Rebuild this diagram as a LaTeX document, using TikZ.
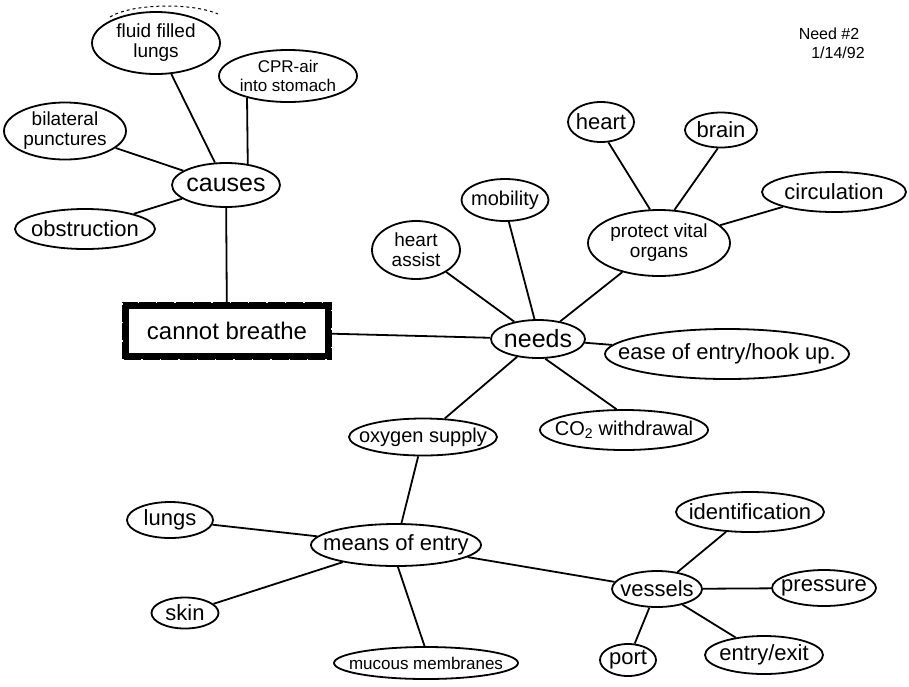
\documentclass[tikz,border=0pt]{standalone}
\usepackage{fontspec}
\setmainfont{Liberation Sans}
\usetikzlibrary{shapes.geometric}
\begin{document}
\begin{tikzpicture}[x=1pt,y=-1pt,
  bub/.style={ellipse, draw, line width=1.8pt, inner sep=0pt},
  lnk/.style={line width=1.8pt},
  every label/.style={align=center, inner sep=0pt, font=\fontsize{22}{24}\selectfont},
  two/.style={font=\fontsize{19}{20}\selectfont},
  twos/.style={font=\fontsize{17}{19}\selectfont},
  big/.style={font=\fontsize{25}{27}\selectfont},
  medium/.style={font=\fontsize{20}{22}\selectfont},
  sml/.style={font=\fontsize{17}{19}\selectfont},
  hand/.style={font=\fontsize{16}{18}\selectfont, inner sep=0pt}]
\useasboundingbox (0,0) rectangle (909,686);

% causes cluster
\node[bub, minimum width=128pt, minimum height=62pt, label={[two]center:{fluid filled\\lungs}}] (ffl) at (156,43) {};
\node[bub, minimum width=138pt, minimum height=52pt, label={[twos]center:{CPR-air\\into stomach}}] (cpr) at (288,76) {};
\node[bub, minimum width=122pt, minimum height=57pt, label={[two]center:{bilateral\\punctures}}] (bil) at (65,131) {};
\node[bub, minimum width=108pt, minimum height=44pt, label={[big]center:{causes}}] (cau) at (226,185) {};
\node[bub, minimum width=140pt, minimum height=40pt, label={center:{obstruction}}] (obs) at (85,229) {};

% central problem
\node[draw, line width=7pt, minimum width=203pt, minimum height=51pt, inner sep=0pt,
      font=\fontsize{24}{26}\selectfont] (cb) at (227,331) {cannot breathe};
\draw[white, line width=1.4pt, dash pattern=on 1.4pt off 17pt] (cb.south west) rectangle (cb.north east);

% needs cluster
\node[bub, minimum width=94pt, minimum height=38pt, label={[big]center:{needs}}] (nee) at (538,339) {};
\node[bub, minimum width=88pt, minimum height=58pt, label={[two]center:{heart\\assist}}] (ha) at (416,250) {};
\node[bub, minimum width=87pt, minimum height=42pt, label={[medium]center:{mobility}}] (mob) at (505,200) {};
\node[bub, minimum width=142pt, minimum height=66pt, label={[two]center:{protect vital\\organs}}] (pvo) at (659,243) {};
\node[bub, minimum width=66pt, minimum height=40pt, label={center:{heart}}] (hrt) at (601,122) {};
\node[bub, minimum width=72pt, minimum height=35pt, label={center:{brain}}] (brn) at (721,130) {};
\node[bub, minimum width=144pt, minimum height=40pt, label={center:{circulation}}] (cir) at (834,192) {};
\node[bub, minimum width=244pt, minimum height=50pt, label={center:{ease of entry/hook up.}}] (eoe) at (727,354) {};
\node[bub, minimum width=168pt, minimum height=40pt, label={[font=\fontsize{20}{22}\selectfont]center:{CO\textsubscript{2} withdrawal}}] (co2) at (624,430) {};
\node[bub, minimum width=148pt, minimum height=37pt, label={[medium]center:{oxygen supply}}] (oxy) at (423,437) {};

% means of entry cluster
\node[bub, minimum width=170pt, minimum height=42pt, label={center:{means of entry}}] (moe) at (396,545) {};
\node[bub, minimum width=86pt, minimum height=36pt, label={center:{lungs}}] (lun) at (170,520) {};
\node[bub, minimum width=67pt, minimum height=31pt, label={center:{skin}}] (ski) at (185,613) {};
\node[bub, minimum width=184pt, minimum height=32pt, label={[sml]center:{mucous membranes}}] (muc) at (426,663) {};

% vessels cluster
\node[bub, minimum width=90pt, minimum height=36pt, label={center:{vessels}}] (ves) at (657,589) {};
\node[bub, minimum width=148pt, minimum height=40pt, label={center:{identification}}] (ide) at (750,512) {};
\node[bub, minimum width=104pt, minimum height=36pt, label={center:{pressure}}] (pre) at (824,588) {};
\node[bub, minimum width=56pt, minimum height=32pt, label={center:{port}}] (por) at (628,660) {};
\node[bub, minimum width=118pt, minimum height=38pt, label={center:{entry/exit}}] (ent) at (764,655) {};

% heading
\node[hand] (nd) at (829,34) {Need \#2};
\node[hand] (dt) at (838,53) {1/14/92};

% sketch overshoot above first bubble
\draw[dashed, line width=1pt] (110,17) .. controls (130,4) and (190,2) .. (218,14);

% connectors
\draw[lnk] (ffl) -- (cau);
\draw[lnk] (cpr.208) -- (cau.44);
\draw[lnk] (bil) -- (cau);
\draw[lnk] (obs) -- (cau);
\draw[lnk] (cau) -- (cb);
\draw[lnk] (cb) -- (nee);
\draw[lnk] (ha) -- (nee);
\draw[lnk] (mob.-80) -- (nee.100);
\draw[lnk] (pvo) -- (nee);
\draw[lnk] (pvo.105) -- (hrt.-70);
\draw[lnk] (pvo.65) -- (brn.-100);
\draw[lnk] (pvo) -- (cir);
\draw[lnk] (nee) -- (eoe);
\draw[lnk] (nee.-70) -- (co2.110);
\draw[lnk] (nee) -- (oxy);
\draw[lnk] (oxy) -- (moe);
\draw[lnk] (moe) -- (lun);
\draw[lnk] (moe) -- (ski);
\draw[lnk] (moe.-85) -- (muc.95);
\draw[lnk] (moe) -- (ves);
\draw[lnk] (ves) -- (ide);
\draw[lnk] (ves) -- (pre);
\draw[lnk] (ves) -- (por);
\draw[lnk] (ves) -- (ent);
\end{tikzpicture}
\end{document}
